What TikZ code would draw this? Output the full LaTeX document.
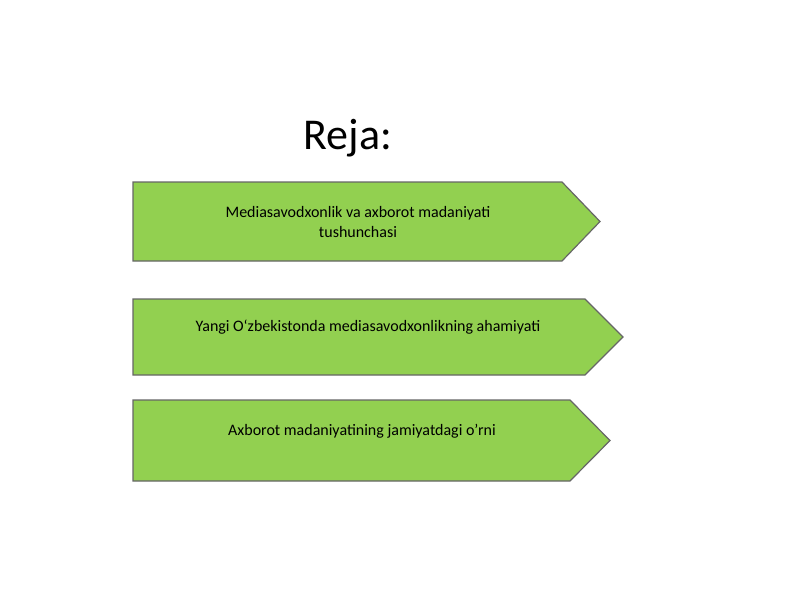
\documentclass[tikz,border=0pt]{standalone}
\usepackage{fontspec}
\setmainfont{Carlito}
\begin{document}
\begin{tikzpicture}[x=1pt,y=-1pt,
  arrowbox/.style={draw=gray!80!black, line width=1.2pt, fill=green1, line join=miter},
  lbl/.style={font=\fontsize{16}{20}\selectfont, align=center, text=black}]
\definecolor{green1}{HTML}{92D050}
\useasboundingbox (0,0) rectangle (800,600);
\node (title) at (348,138) {\fontsize{44}{50}\selectfont Reja:};
\draw[arrowbox] (133,182) -- (562,182) -- (600,221.5) -- (562,261) -- (133,261) -- cycle;
\node[lbl] (t1) at (358,222) {Mediasavodxonlik va axborot madaniyati\\tushunchasi};
\draw[arrowbox] (133,299) -- (585,299) -- (623,337) -- (585,375) -- (133,375) -- cycle;
\node[lbl] (t2) at (368,327) {Yangi O‘zbekistonda mediasavodxonlikning ahamiyati};
\draw[arrowbox] (133,400) -- (570,400) -- (610,440.5) -- (570,481) -- (133,481) -- cycle;
\node[lbl] (t3) at (362,431) {Axborot madaniyatining jamiyatdagi o'rni};
\end{tikzpicture}
\end{document}
